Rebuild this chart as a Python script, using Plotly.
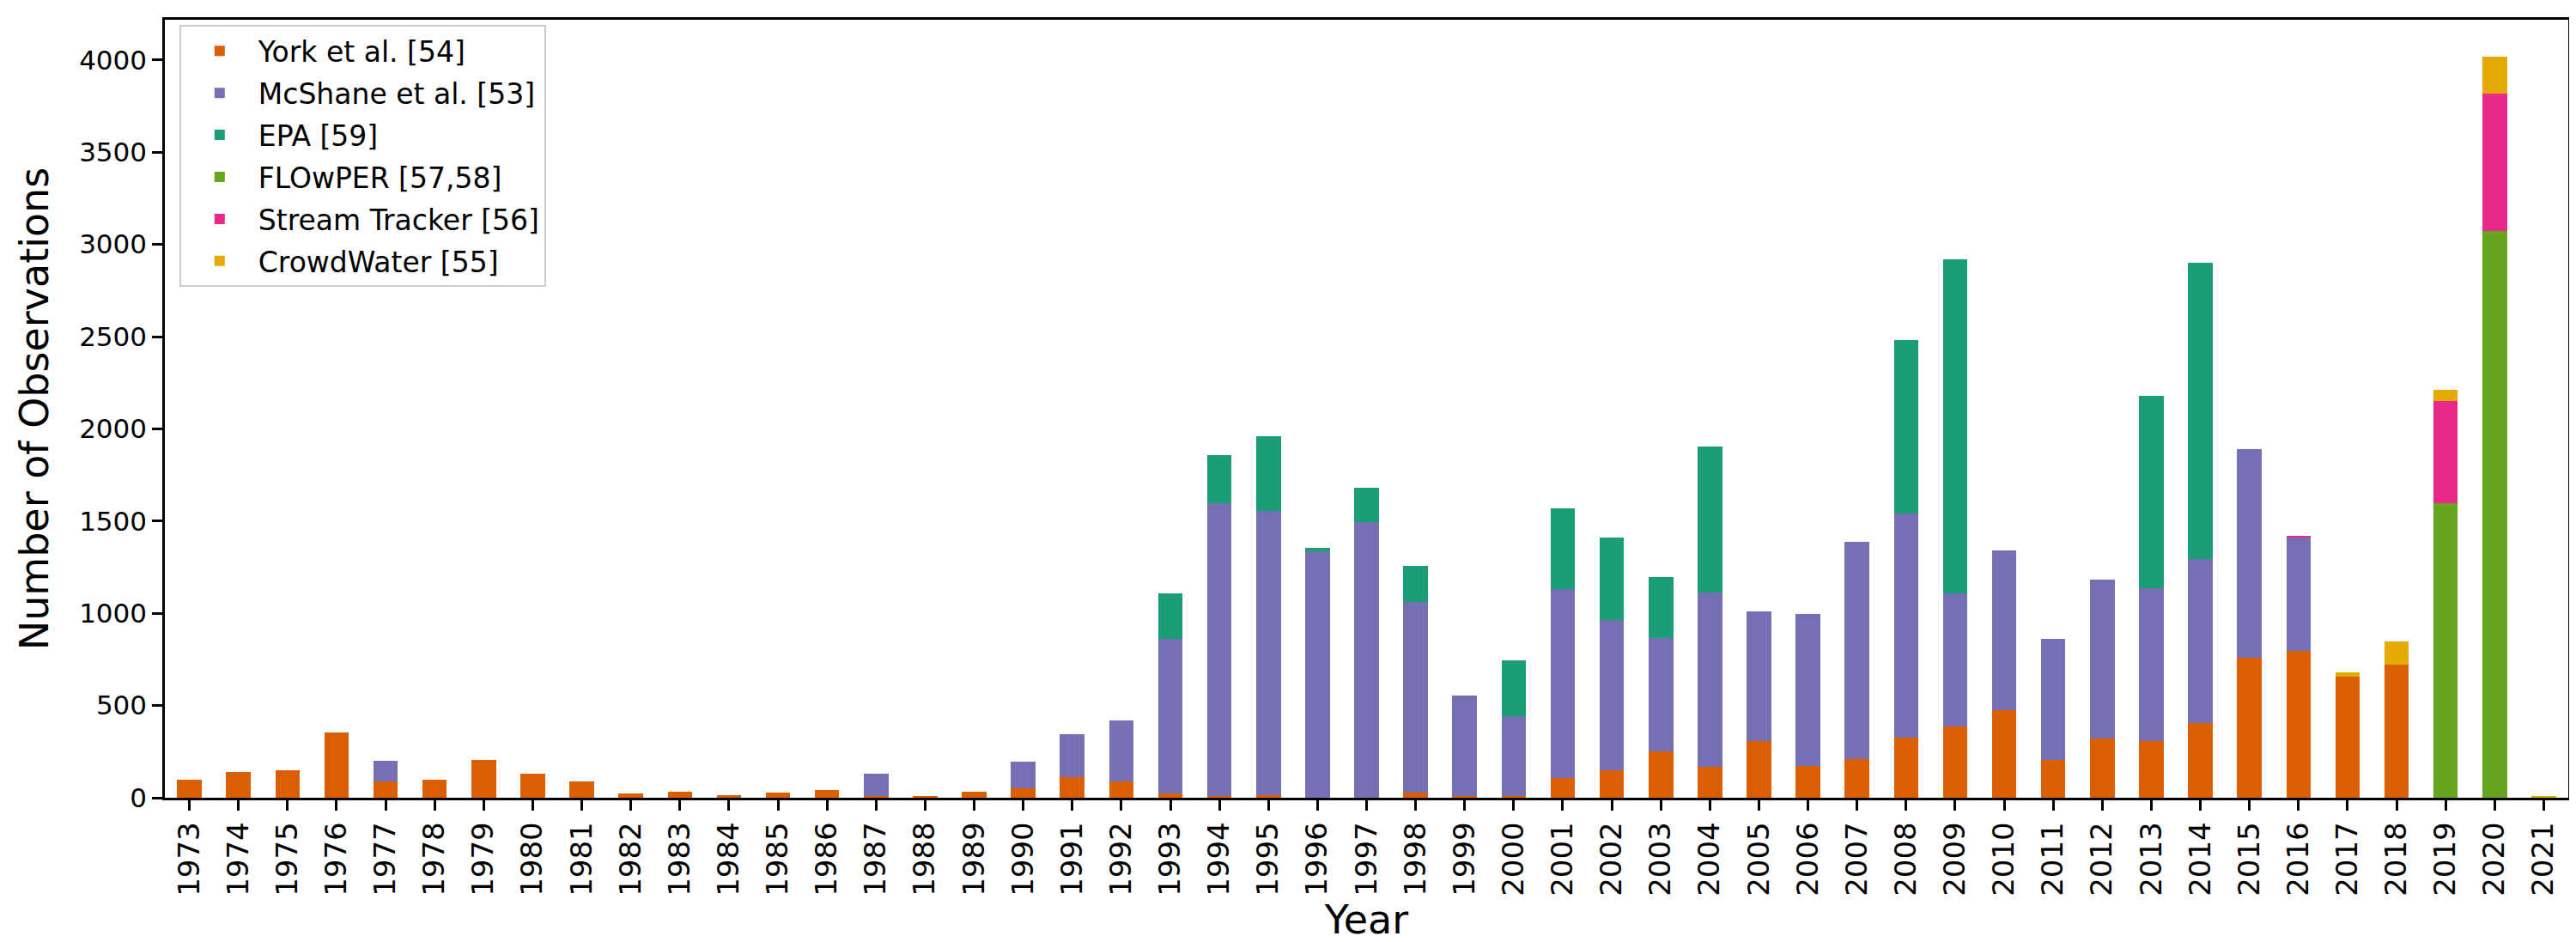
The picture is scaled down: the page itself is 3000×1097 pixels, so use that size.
import plotly.graph_objects as go

years = [str(y) for y in range(1973, 2022)]

york = [97, 139, 148, 356, 87, 97, 203, 131, 87, 22,
        32, 15, 26, 42, 8, 8, 31, 50, 111, 88,
        22, 8, 12, 0, 0, 26, 8, 10, 106, 151,
        251, 167, 305, 173, 211, 327, 388, 473, 206, 319,
        308, 407, 759, 798, 655, 721, 0, 0, 0]
mcshane = [0, 0, 0, 0, 111, 0, 0, 0, 0, 0,
           0, 0, 0, 0, 122, 0, 0, 146, 235, 330,
           840, 1591, 1542, 1336, 1493, 1035, 546, 432, 1025, 813,
           615, 944, 705, 823, 1175, 1212, 721, 870, 653, 864,
           828, 889, 1129, 614, 0, 0, 0, 0, 0]
epa = [0, 0, 0, 0, 0, 0, 0, 0, 0, 0,
       0, 0, 0, 0, 0, 0, 0, 0, 0, 0,
       244, 257, 406, 17, 187, 197, 0, 301, 438, 448,
       329, 793, 0, 0, 0, 944, 1810, 0, 0, 0,
       1041, 1604, 0, 0, 0, 0, 0, 0, 0]
flowper = [0, 0, 0, 0, 0, 0, 0, 0, 0, 0,
           0, 0, 0, 0, 0, 0, 0, 0, 0, 0,
           0, 0, 0, 0, 0, 0, 0, 0, 0, 0,
           0, 0, 0, 0, 0, 0, 0, 0, 0, 0,
           0, 0, 0, 0, 0, 0, 1596, 3071, 0]
stream_tracker = [0, 0, 0, 0, 0, 0, 0, 0, 0, 0,
                  0, 0, 0, 0, 0, 0, 0, 0, 0, 0,
                  0, 0, 0, 0, 0, 0, 0, 0, 0, 0,
                  0, 0, 0, 0, 0, 0, 0, 0, 0, 0,
                  0, 0, 0, 8, 0, 0, 553, 746, 0]
crowdwater = [0, 0, 0, 0, 0, 0, 0, 0, 0, 0,
              0, 0, 0, 0, 0, 0, 0, 0, 0, 0,
              0, 0, 0, 0, 0, 0, 0, 0, 0, 0,
              0, 0, 0, 0, 0, 0, 0, 0, 0, 0,
              0, 0, 0, 0, 27, 124, 61, 200, 8]

series_names = ["York et al. [54]", "McShane et al. [53]", "EPA [59]",
                "FLOwPER [57,58]", "Stream Tracker [56]", "CrowdWater [55]"]
series_values = [york, mcshane, epa, flowper, stream_tracker, crowdwater]
series_colors = ["#d95f02", "#7570b3", "#1b9e77", "#66a61e", "#e7298a", "#e6ab02"]

FONT = "DejaVu Sans"

fig = go.Figure()
for i, (name, vals, col) in enumerate(zip(series_names, series_values, series_colors)):
    fig.add_trace(go.Bar(x=years, y=vals, name=name, width=0.5, legendgroup=f"g{i}",
                         marker=dict(color=col, line=dict(width=0))))

totals = [sum(v) for v in zip(*series_values)]
ytop = max(totals) * 1.05

axis_common = dict(showline=True, linecolor="black", linewidth=2.5, mirror=True,
                   ticks="outside", ticklen=12, tickwidth=2.5, tickcolor="black",
                   showgrid=False, zeroline=False)

fig.update_layout(
    width=3000, height=1097,
    margin=dict(l=184, r=17, t=12, b=176),
    barmode="stack",
    plot_bgcolor="white", paper_bgcolor="white",
    font=dict(family=FONT, color="black"),
    xaxis=dict(type="category", range=[-0.5, 48.5], tickangle=-90,
               tickfont=dict(family=FONT, size=34, color="black"),
               title=dict(text="Year", font=dict(family=FONT, size=46, color="black"), standoff=8),
               **axis_common),
    yaxis=dict(range=[0, ytop], dtick=500, tick0=0,
               tickfont=dict(family=FONT, size=31, color="black"),
               title=dict(text="Number of Observations", font=dict(family=FONT, size=46, color="black"), standoff=22),
               **axis_common),
    legend=dict(x=0.006, y=0.993, xanchor="left", yanchor="top",
                traceorder="grouped", tracegroupgap=3,
                bgcolor="rgba(255,255,255,0.85)",
                bordercolor="#cccccc", borderwidth=2, itemwidth=80,
                font=dict(family=FONT, size=33, color="black")),
    showlegend=True,
)

fig.write_html("out.html")
